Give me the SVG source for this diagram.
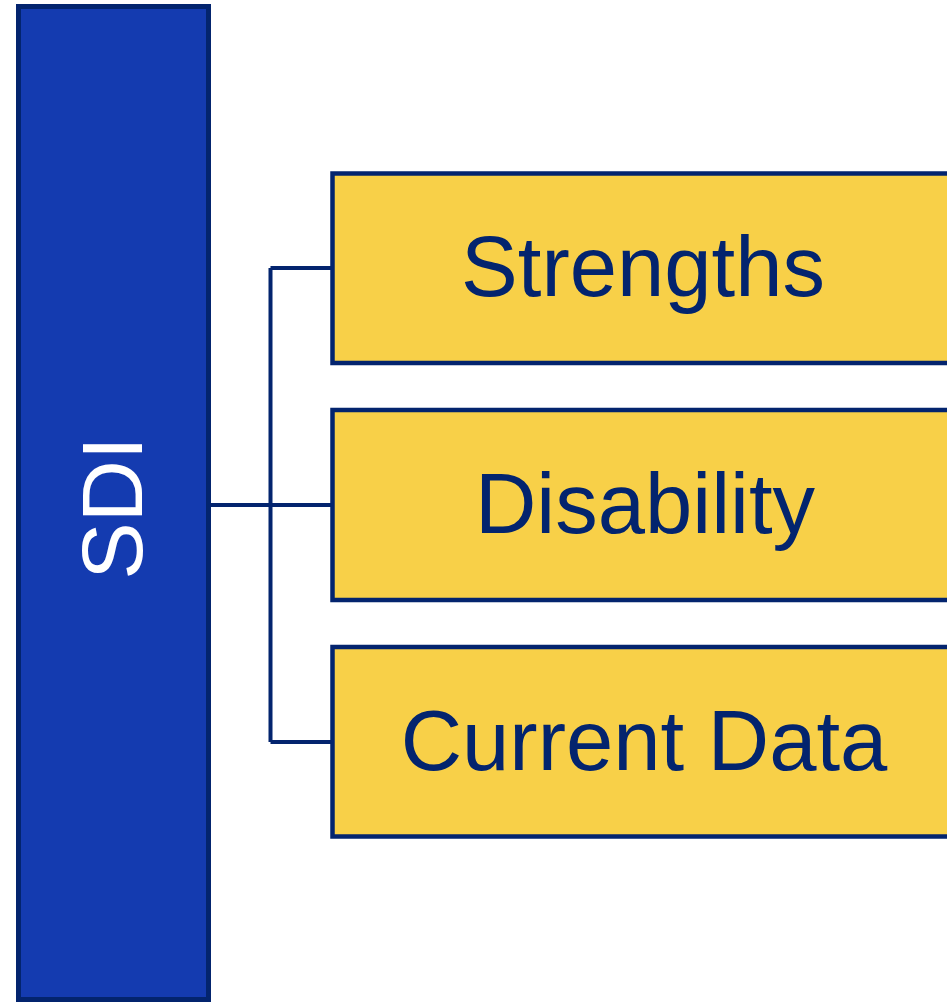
<svg xmlns="http://www.w3.org/2000/svg" width="947" height="1002" viewBox="0 0 947 1002">
<style>
.main{fill:#143BB0;stroke:#03246E;stroke-width:5}
.box{fill:#F8D048;stroke:#03246E;stroke-width:4.5}
.lbl{font-family:"Liberation Sans",Arial,sans-serif;font-size:85px;fill:#03246E;text-anchor:middle}
.conn{fill:none;stroke:#03246E;stroke-width:4}
</style>
<rect width="947" height="1002" fill="#ffffff"/>
<g id="sdi">
<rect class="main" x="18.5" y="6.5" width="190" height="993"/>
<text transform="translate(141.5,508) rotate(-90)" style="font-family:'Liberation Sans',Arial,sans-serif;font-size:86px;fill:#ffffff;text-anchor:middle">SDI</text>
</g>
<g id="connectors">
<path class="conn" d="M208.5,505 H332.5 M270.5,268 V742 M270.5,268 H332.5 M270.5,742 H332.5"/>
</g>
<g id="strengths">
<rect class="box" x="332.5" y="173.5" width="640" height="189.5"/>
<text class="lbl" x="643" y="296">Strengths</text>
</g>
<g id="disability">
<rect class="box" x="332.5" y="410" width="640" height="190"/>
<text class="lbl" x="645" y="533">Disability</text>
</g>
<g id="current-data">
<rect class="box" x="332.5" y="647" width="640" height="189.5"/>
<text class="lbl" x="644" y="769.5">Current Data</text>
</g>
</svg>
